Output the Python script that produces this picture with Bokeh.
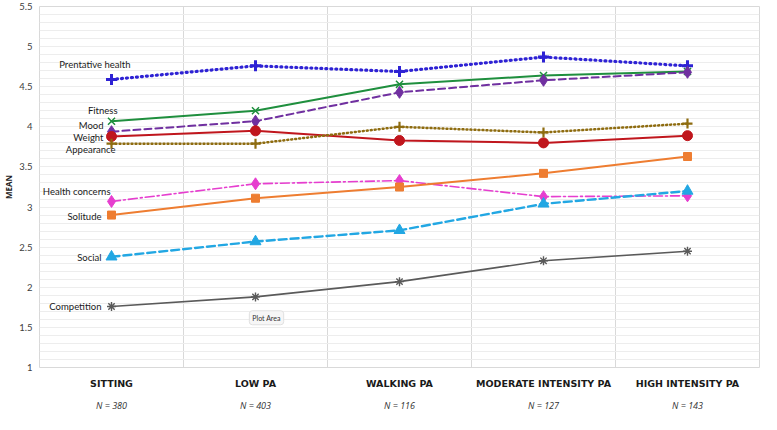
from bokeh.plotting import figure
from bokeh.models import (Range1d, FixedTicker, LinearAxis, ColumnDataSource, Label)
from bokeh.core.properties import value
from bokeh.embed import file_html
from bokeh.resources import INLINE

categories = ["SITTING", "LOW PA", "WALKING PA", "MODERATE INTENSITY PA", "HIGH INTENSITY PA"]
n_labels = ["N = 380", "N = 403", "N = 116", "N = 127", "N = 143"]

prentative_health = [4.59, 4.76, 4.69, 4.87, 4.76]
fitness = [4.07, 4.20, 4.53, 4.64, 4.69]
mood = [3.94, 4.07, 4.43, 4.58, 4.68]
weight = [3.88, 3.95, 3.83, 3.80, 3.89]
appearance = [3.79, 3.79, 4.00, 3.93, 4.04]
health_concerns = [3.07, 3.29, 3.33, 3.13, 3.14]
solitude = [2.90, 3.11, 3.25, 3.42, 3.63]
social = [2.38, 2.57, 2.71, 3.04, 3.20]
competition = [1.76, 1.88, 2.07, 2.33, 2.45]

series_names = ["Prentative health", "Fitness", "Mood", "Weight", "Appearance",
                "Health concerns", "Solitude", "Social", "Competition"]
series_values = [prentative_health, fitness, mood, weight, appearance,
                 health_concerns, solitude, social, competition]

y_ticks = [1, 1.5, 2, 2.5, 3, 3.5, 4, 4.5, 5, 5.5]

# styles: color, dash, width, marker, marker size, marker line width, filled
styles = {
    "Prentative health": ("#2E22D4", "1 4", 3.2, "cross", 11, 3.0, True),
    "Fitness": ("#1F8F3E", "solid", 2.0, "x", 10, 1.5, False),
    "Mood": ("#7030A0", "7 4", 2.0, "diamond", 12, 1, True),
    "Weight": ("#C0161D", "solid", 2.0, "circle", 10, 1, True),
    "Appearance": ("#8E6C10", "1 3", 2.5, "cross", 10, 2.2, True),
    "Health concerns": ("#E63ECF", "9 3 2 3", 1.6, "diamond", 12, 1, True),
    "Solitude": ("#EE7D31", "solid", 2.0, "square", 8, 1, True),
    "Social": ("#22A7E3", "8 4", 2.4, "triangle", 11, 1, True),
    "Competition": ("#5A5A5A", "solid", 1.6, "asterisk", 9, 1.4, False),
}
# series label offsets (pixels) relative to first point
label_offsets = {
    "Prentative health": (19, -15),
    "Fitness": (6, -11),
    "Mood": (-8, -6),
    "Weight": (-8, 1),
    "Appearance": (4, 6),
    "Health concerns": (-1, -10),
    "Solitude": (-10, 1),
    "Social": (-10, 1),
    "Competition": (-10, 0),
}

xs = [i + 0.5 for i in range(len(categories))]

p = figure(width=761, height=414, output_backend="svg", toolbar_location=None,
           x_range=Range1d(0, len(categories)), y_range=Range1d(1, 5.5),
           min_border_left=0, min_border_right=2, min_border_top=6, min_border_bottom=0,
           x_axis_location=None)
p.outline_line_color = "#D9D9D9"
p.background_fill_color = "white"

# grids
p.xgrid.ticker = FixedTicker(ticks=[1, 2, 3, 4])
p.xgrid.grid_line_color = "#D9D9D9"
p.ygrid.ticker = FixedTicker(ticks=[1 + 0.1 * k for k in range(46)])
p.ygrid.grid_line_color = "#EDEDED"

# y axis
ya = p.yaxis[0]
ya.ticker = FixedTicker(ticks=y_ticks)
ya.major_label_overrides = {t: (str(int(t)) if float(t).is_integer() else str(t)) for t in y_ticks}
ya.axis_line_color = None
ya.major_tick_line_color = None
ya.minor_tick_line_color = None
ya.major_tick_out = 0
ya.major_tick_in = 0
ya.minor_tick_out = 0
ya.major_label_text_font = "Lato"
ya.major_label_text_font_size = "9.5px"
ya.major_label_text_color = "#404040"
ya.major_label_standoff = 7
ya.axis_label = "MEAN"
ya.axis_label_text_font = "Open Sans"
ya.axis_label_text_font_size = "8px"
ya.axis_label_text_font_style = "bold"
ya.axis_label_text_color = "#222222"
ya.axis_label_standoff = 2

# x axes: categories and N
def bare_axis(labels, font, font_size, style, standoff, color):
    ax = LinearAxis(ticker=FixedTicker(ticks=xs),
                    major_label_overrides={x: c for x, c in zip(xs, labels)})
    ax.axis_line_color = None
    ax.major_tick_line_color = None
    ax.minor_tick_line_color = None
    ax.major_tick_out = 0
    ax.major_tick_in = 0
    ax.minor_tick_out = 0
    ax.major_label_text_line_height = 1.0
    ax.major_label_text_font = font
    ax.major_label_text_font_style = style
    ax.major_label_text_font_size = font_size
    ax.major_label_text_color = color
    ax.major_label_standoff = standoff
    return ax

xa = bare_axis(categories, "DejaVu Sans", "9.5px", "bold", 10, "#1A1A1A")
p.add_layout(xa, "below")
xn = bare_axis(n_labels, "Open Sans", "9px", "italic", 7, "#333333")
p.add_layout(xn, "below")

for name, vals in zip(series_names, series_values):
    color, dash, lw, marker, ms, mlw, filled = styles[name]
    p.line(xs, vals, line_color=color, line_width=lw, line_dash=dash, line_cap="round")
    p.scatter(xs, vals, marker=marker, size=ms, line_color=color, line_width=mlw,
              fill_color=color if filled else None)

lab_src = ColumnDataSource(dict(
    x=[xs[0]] * len(series_names),
    y=[v[0] for v in series_values],
    text=series_names,
    xo=[label_offsets[n][0] for n in series_names],
    yo=[label_offsets[n][1] for n in series_names],
))
p.text(x="x", y="y", text="text", x_offset="xo", y_offset="yo", source=lab_src,
       text_align="right", text_baseline="middle", text_font=value("Lato"),
       text_font_size="9.5px", text_color="#1A1A1A")

tip = Label(x=xs[1], y=1.62, x_offset=11, text="Plot Area", text_font="Lato",
            text_font_size="7px", text_color="#333333", text_align="center",
            text_baseline="middle", background_fill_color="#F6F6F6",
            border_line_color="#E0E0E0", padding=3, border_radius=3)
p.add_layout(tip)

open("out.html", "w").write(file_html(p, INLINE))
